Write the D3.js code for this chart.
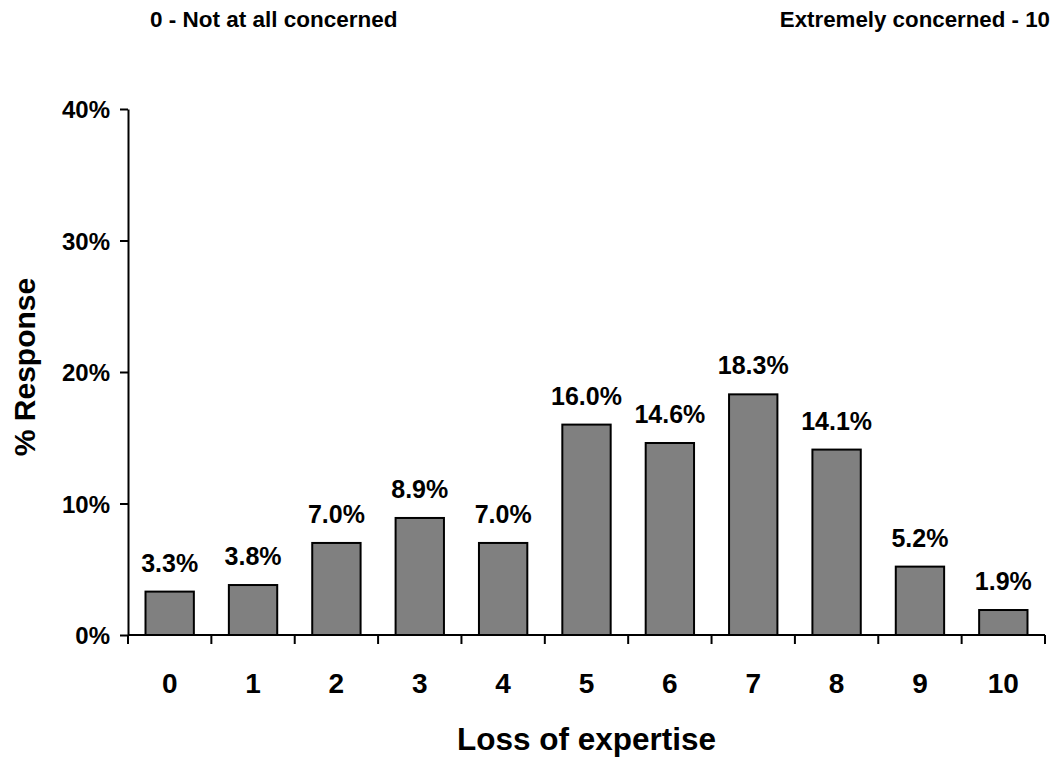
<!DOCTYPE html>
<html><head><meta charset="utf-8">
<script src="https://cdn.jsdelivr.net/npm/d3@7"></script>
<style>body{margin:0;background:#fff;}text{font-family:"Liberation Sans",Arial,sans-serif;font-weight:bold;fill:#000;}</style>
</head><body>
<svg id="chart" width="1058" height="757"></svg>
<script>
const categories = ["0","1","2","3","4","5","6","7","8","9","10"];
const values = [3.3, 3.8, 7.0, 8.9, 7.0, 16.0, 14.6, 18.3, 14.1, 5.2, 1.9];
const yTicks = [0, 10, 20, 30, 40];
const xTitle = "Loss of expertise";
const yTitle = "% Response";
const leftNote = "0 - Not at all concerned";
const rightNote = "Extremely concerned - 10";

const svg = d3.select("#chart");
const x0 = 128, x1 = 1045, yBase = 635, yTop = 109;
const x = d3.scaleBand().domain(categories).range([x0, x1]).paddingInner(0.42).paddingOuter(0.21);
const y = d3.scaleLinear().domain([0, 40]).range([yBase, yTop]);

// bars
svg.selectAll("rect.bar").data(values).join("rect")
  .attr("x", (d,i) => x(categories[i]))
  .attr("y", d => y(d))
  .attr("width", x.bandwidth())
  .attr("height", d => yBase - y(d))
  .attr("fill", "#808080").attr("stroke", "#000").attr("stroke-width", 2);

// y axis
const yAxis = d3.axisLeft(y).tickValues(yTicks).tickFormat(d => d + "%").tickSize(8).tickSizeOuter(0);
const gy = svg.append("g").attr("transform", `translate(${x0},0)`).call(yAxis);
gy.select(".domain").attr("stroke", "#000").attr("stroke-width", 2);
gy.selectAll(".tick line").attr("stroke", "#000").attr("stroke-width", 2);
gy.selectAll(".tick text").attr("x", -18).attr("dy", "0.36em").style("font-size", "24px").style("font-family", "Liberation Sans, Arial, sans-serif").style("font-weight", "bold");

// x axis line and ticks at band boundaries
svg.append("line").attr("x1", x0).attr("x2", x1).attr("y1", yBase).attr("y2", yBase).attr("stroke", "#000").attr("stroke-width", 2);
const bounds = categories.map(c => x(c) - x.step()*0.21).concat([x1]);
svg.selectAll("line.xt").data(bounds).join("line")
  .attr("x1", d => d).attr("x2", d => d).attr("y1", yBase).attr("y2", yBase + 9)
  .attr("stroke", "#000").attr("stroke-width", 2);

// category labels
svg.selectAll("text.cat").data(categories).join("text")
  .attr("x", d => x(d) + x.bandwidth()/2).attr("y", 693)
  .attr("text-anchor", "middle").style("font-size", "28px").text(d => d);

// value labels
svg.selectAll("text.val").data(values).join("text")
  .attr("x", (d,i) => x(categories[i]) + x.bandwidth()/2).attr("y", d => y(d) - 20)
  .attr("text-anchor", "middle").style("font-size", "25px").text(d => d.toFixed(1) + "%");

// titles
svg.append("text").attr("x", (x0 + x1)/2).attr("y", 750).attr("text-anchor", "middle").style("font-size", "31.5px").text(xTitle);
svg.append("text").attr("transform", "translate(35,367) rotate(-90)").attr("text-anchor", "middle").style("font-size", "30px").text(yTitle);
svg.append("text").attr("x", 150).attr("y", 27).style("font-size", "22.5px").text(leftNote);
svg.append("text").attr("x", 1050).attr("y", 27).attr("text-anchor", "end").style("font-size", "22.3px").text(rightNote);
</script>
</body></html>
